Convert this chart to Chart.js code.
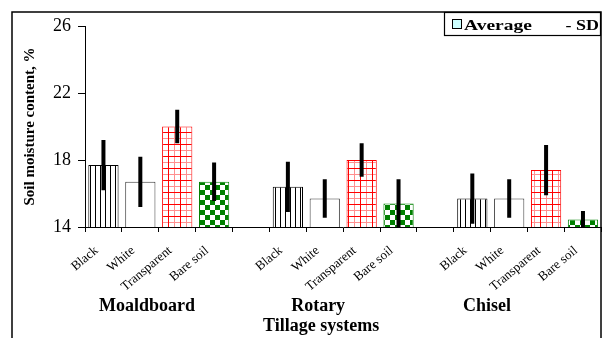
<!DOCTYPE html>
<html>
<head>
<meta charset="utf-8">
<script src="https://cdn.jsdelivr.net/npm/chart.js@4.4.0/dist/chart.umd.min.js"></script>
<style>
  html, body { margin: 0; padding: 0; background: #fff; }
</style>
</head>
<body>
<canvas id="chart" width="604" height="338"></canvas>
<script>
// Tillage systems and cover treatments
const systems = ['Moaldboard', 'Rotary', 'Chisel'];
const covers = ['Black', 'White', 'Transparent', 'Bare soil'];
// Average soil moisture (%) per cover, per system
const moaldboardAvg = [17.7, 16.7, 20.0, 16.7];
const rotaryAvg = [16.4, 15.7, 18.0, 15.4];
const chiselAvg = [15.7, 15.7, 17.4, 14.45];
// Standard deviations
const moaldboardSD = [1.5, 1.5, 1.0, 1.15];
const rotarySD = [1.5, 1.15, 1.0, 1.45];
const chiselSD = [1.5, 1.15, 1.5, 0.5];
const yTicks = [14, 18, 22, 26];

const FONT = 'Liberation Serif';

// Build the 14 slots: 4 covers per system, one empty slot between systems
const labels = [], average = [], sd = [], kind = [];
[moaldboardAvg, rotaryAvg, chiselAvg].forEach((avg, g) => {
    const dev = [moaldboardSD, rotarySD, chiselSD][g];
    if (g > 0) {
        labels.push(''); average.push(null); sd.push(null); kind.push(-1);
    }
    covers.forEach((c, i) => {
        labels.push(c); average.push(avg[i]); sd.push(dev[i]); kind.push(i);
    });
});

const canvas = document.getElementById('chart');
const ctx = canvas.getContext('2d');

function makePattern(w, h, draw) {
    const c = document.createElement('canvas');
    c.width = w; c.height = h;
    const g = c.getContext('2d');
    g.fillStyle = '#fff';
    g.fillRect(0, 0, w, h);
    draw(g);
    return ctx.createPattern(c, 'repeat');
}

// Black: vertical stripes
const stripes = makePattern(5, 4, g => {
    g.fillStyle = '#000';
    g.fillRect(0, 0, 1, 4);
});
// White: plain
const plain = '#ffffff';
// Transparent: red grid
const grid = makePattern(12, 12, g => {
    g.fillStyle = '#ff9090';
    g.fillRect(6, 0, 1, 12);
    g.fillRect(0, 6, 12, 1);
    g.fillStyle = '#ff0000';
    g.fillRect(0, 0, 1, 12);
    g.fillRect(0, 0, 12, 1);
});
// Bare soil: green checkerboard
const checker = makePattern(10, 10, g => {
    g.fillStyle = '#008000';
    g.fillRect(0, 0, 5, 5);
    g.fillRect(5, 5, 5, 5);
});

const fills = [stripes, plain, grid, checker];
const borders = ['#000000', '#3a3a3a', '#ff0000', '#008000'];

// Error bars (+/- SD), drawn through the y scale
const errorBars = {
    id: 'errorBars',
    afterDatasetsDraw(chart) {
        const c = chart.ctx, y = chart.scales.y, area = chart.chartArea;
        const meta = chart.getDatasetMeta(0);
        c.save();
        c.beginPath();
        c.rect(area.left, area.top, area.right - area.left, area.bottom - area.top);
        c.clip();
        c.strokeStyle = '#000';
        c.lineWidth = 4;
        c.lineCap = 'butt';
        average.forEach((v, i) => {
            if (v == null) return;
            const x = meta.data[i].x;
            c.beginPath();
            c.moveTo(x, y.getPixelForValue(v + sd[i]));
            c.lineTo(x, y.getPixelForValue(v - sd[i]));
            c.stroke();
        });
        c.restore();
    }
};

// draw text stretched horizontally, like the wide lettering of the original
function wideText(c, text, x, y, stretch, align) {
    c.save();
    c.translate(x, y);
    c.scale(stretch, 1);
    c.textAlign = align;
    c.fillText(text, 0, 0);
    c.restore();
}

// Frame, legend, axis titles and group labels
const decorations = {
    id: 'decorations',
    afterDraw(chart) {
        const c = chart.ctx, x = chart.scales.x, area = chart.chartArea;
        c.save();
        // outer frame
        c.strokeStyle = '#000';
        c.lineWidth = 1.5;
        c.strokeRect(12, 12, 589, 340);
        // legend box
        c.lineWidth = 1.2;
        c.strokeRect(444.5, 12.5, 156, 23);
        c.fillStyle = '#ccffff';
        c.fillRect(452.5, 19.5, 9, 9);
        c.lineWidth = 1;
        c.strokeRect(452.5, 19.5, 9, 9);
        c.fillStyle = '#000';
        c.font = 'bold 15px ' + FONT;
        c.textBaseline = 'alphabetic';
        wideText(c, 'Average', 464, 30, 1.3, 'left');
        wideText(c, '- SD', 599, 30, 1.2, 'right');
        // y axis title
        c.save();
        c.translate(30, (area.top + area.bottom) / 2);
        c.rotate(-Math.PI / 2);
        c.textAlign = 'center';
        c.textBaseline = 'middle';
        c.font = 'bold 15px ' + FONT;
        c.fillText('Soil moisture content, %', 0, 0);
        c.restore();
        // group labels and x axis title
        c.font = 'bold 18px ' + FONT;
        c.textAlign = 'center';
        c.textBaseline = 'middle';
        const anchors = [1.18, 5.82, 10.4];
        systems.forEach((s, g) => {
            c.fillText(s, x.getPixelForValue(anchors[g]), 306);
        });
        c.fillText('Tillage systems', x.getPixelForValue(5.9), 326);
        c.restore();
    }
};

new Chart(ctx, {
    type: 'bar',
    data: {
        labels: labels,
        datasets: [{
            label: 'Average',
            data: average,
            backgroundColor: kind.map(k => k < 0 ? plain : fills[k]),
            borderColor: kind.map(k => k < 0 ? '#000' : borders[k]),
            borderWidth: 1,
            borderSkipped: false,
            barPercentage: 0.82,
            categoryPercentage: 1.0
        }]
    },
    options: {
        responsive: false,
        animation: false,
        devicePixelRatio: 1,
        layout: { padding: { top: 26, left: 0, right: 0, bottom: 0 } },
        plugins: {
            legend: { display: false },
            tooltip: { enabled: false }
        },
        scales: {
            x: {
                grid: { drawOnChartArea: false, drawTicks: true, tickLength: 5, color: '#000', offset: true },
                border: { display: true, color: '#000', width: 1 },
                ticks: {
                    autoSkip: false, minRotation: 40, maxRotation: 40,
                    color: '#000', padding: 11, labelOffset: -7,
                    font: { family: FONT, size: 13 }
                },
                afterFit: s => { s.height = 111; }
            },
            y: {
                min: 14, max: 26,
                afterBuildTicks: s => { s.ticks = yTicks.map(v => ({ value: v })); },
                grid: { drawOnChartArea: false, drawTicks: true, tickLength: 7, color: '#000' },
                border: { display: true, color: '#000', width: 1 },
                ticks: {
                    color: '#000', padding: 7,
                    font: { family: FONT, size: 18 }
                },
                afterFit: s => { s.width = 85; }
            }
        }
    },
    plugins: [errorBars, decorations]
});
</script>
</body>
</html>
